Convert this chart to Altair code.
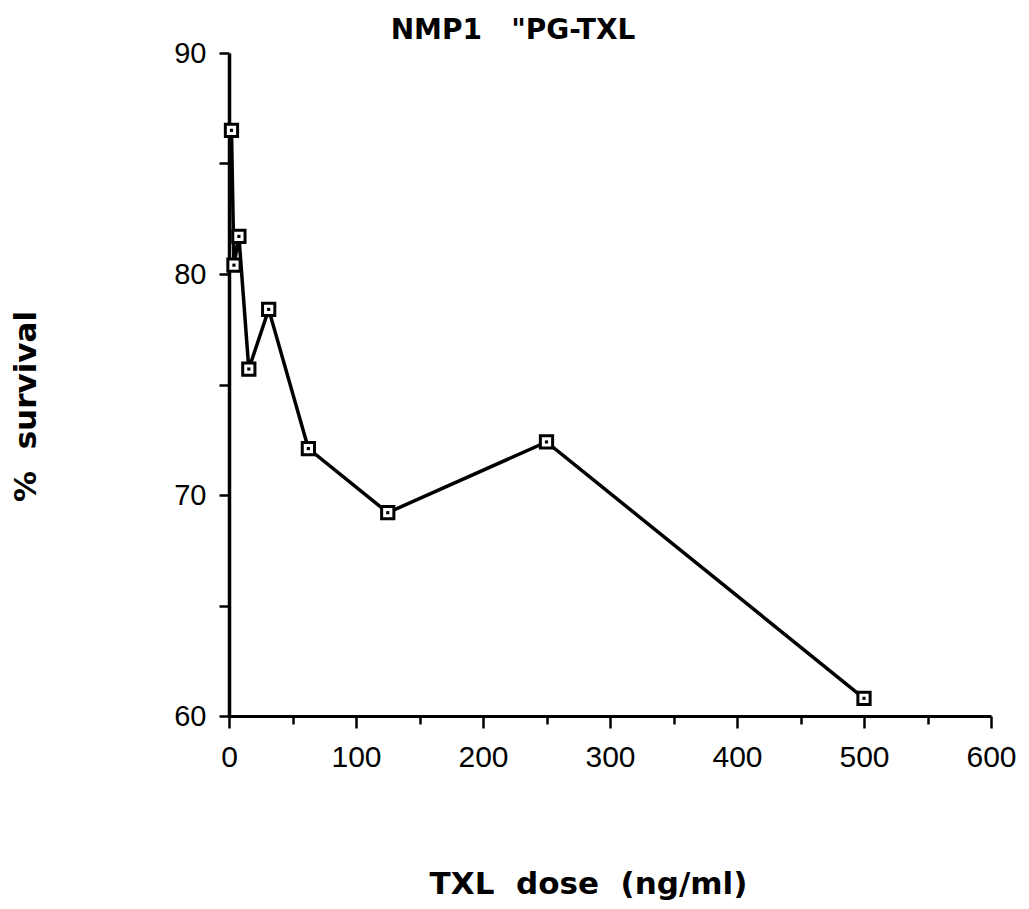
import altair as alt
import pandas as pd

doses = [1.95, 3.9, 7.8, 15.6, 31.25, 62.5, 125, 250, 500]
survival = [86.5, 80.4, 81.7, 75.7, 78.4, 72.1, 69.2, 72.4, 60.8]
x_ticks = list(range(0, 601, 50))
y_ticks = [60, 65, 70, 75, 80, 85, 90]

NB = "\u00a0"
title_text = "NMP1" + NB * 3 + '"PG-TXL'
x_title = "TXL" + NB * 2 + "dose" + NB * 2 + "(ng/ml)"
y_title = "%" + NB * 2 + "survival"

df = pd.DataFrame({"dose": doses, "survival": survival})

x_enc = alt.X(
    "dose:Q",
    scale=alt.Scale(domain=[0, 600], nice=False, zero=False),
    axis=alt.Axis(
        values=x_ticks,
        labelExpr="datum.value % 100 == 0 ? datum.label : ''",
        title=x_title,
        titleX=359,
        titleY=177,
        titleAlign="center",
        titleBaseline="alphabetic",
        tickSize={"condition": {"test": "datum.value % 100 == 0", "value": 12}, "value": 8},
        labelPadding=14,
        labelFontSize=30,
        labelFlush=False,
        labelOverlap=False,
    ),
)
y_enc = alt.Y(
    "survival:Q",
    scale=alt.Scale(domain=[60, 90], nice=False, zero=False),
    axis=alt.Axis(
        values=y_ticks,
        labelExpr="datum.value % 10 == 0 ? datum.label : ''",
        title=y_title,
        titleX=-203,
        titleY=353,
        titleAlign="center",
        titleBaseline="middle",
        titleAngle=-90,
        tickSize=10,
        labelPadding=13,
        domainWidth=3.5,
        labelFlush=False,
        labelOverlap=False,
    ),
)

base = alt.Chart(df).encode(x=x_enc, y=y_enc, order=alt.Order("dose:Q"))

line = base.mark_line(color="black", strokeWidth=3.5)
boxes = base.mark_point(shape="square", filled=True, fill="white", stroke="black",
                        strokeWidth=3, size=150, opacity=1)
dots = base.mark_point(shape="square", filled=True, color="black", size=10, opacity=1)

chart = (
    alt.layer(line, boxes, dots)
    .properties(
        width=762,
        height=663,
        background="white",
        autosize=alt.AutoSizeParams(type="none"),
        padding={"left": 221, "top": 45, "right": 30, "bottom": 185},
        title=alt.TitleParams(
            title_text,
            font="DejaVu Sans",
            fontSize=28,
            fontWeight="bold",
            color="black",
            anchor="middle",
            dx=-97,
            dy=28,
            baseline="alphabetic",
            offset=0,
        ),
    )
    .configure_view(stroke=None)
    .configure_axis(
        grid=False,
        domainColor="black",
        domainWidth=3,
        tickColor="black",
        tickWidth=2.5,
        labelFont="Liberation Sans",
        labelFontSize=29,
        labelColor="black",
        titleFont="DejaVu Sans",
        titleFontSize=31,
        titleFontWeight="bold",
        titleColor="black",
    )
)

chart.save("out.html", embed_options={"renderer": "svg", "actions": False})
